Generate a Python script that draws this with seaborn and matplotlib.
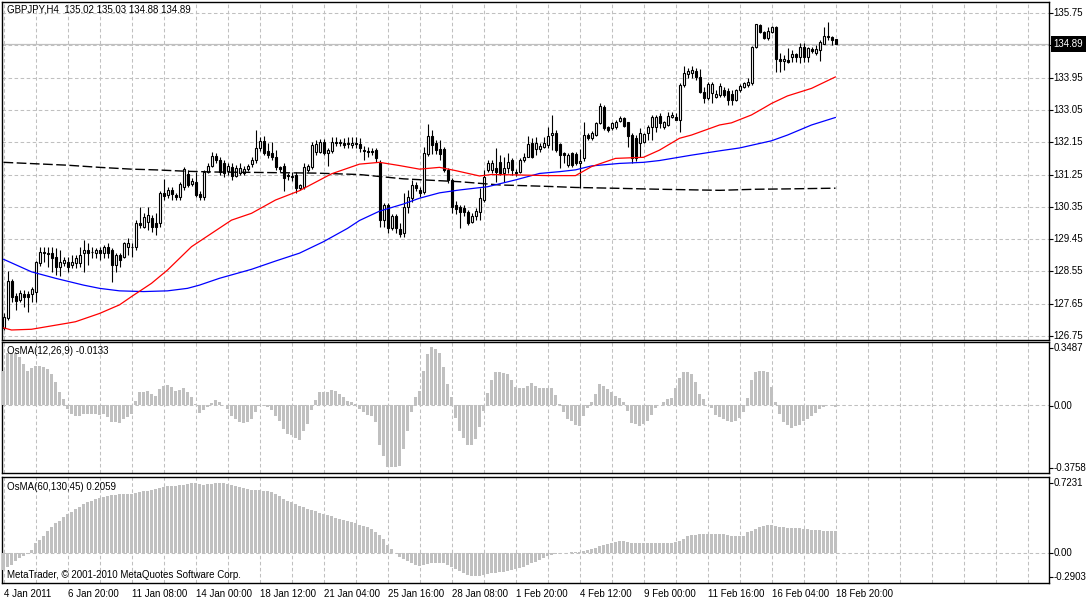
import numpy as np
import matplotlib
matplotlib.use("Agg")
import matplotlib.pyplot as plt
from matplotlib import transforms
import seaborn as sns

# ---------------- data ----------------
symbol_title = "GBPJPY,H4  135.02 135.03 134.88 134.89"

opens = [126.97, 127.25, 128.29, 127.88, 127.76, 127.92, 127.92, 127.92, 127.99, 128.78,
         129.10, 129.07, 129.06, 128.96, 128.68, 128.78, 128.82, 128.73, 128.78, 128.78,
         129.06, 129.15, 129.10, 129.06, 129.15, 129.06, 129.24, 129.15, 128.73, 129.01,
         128.96, 129.24, 129.24, 129.24, 129.89, 129.80, 129.94, 130.03, 129.91, 129.89,
         130.74, 130.68, 130.82, 130.68, 130.62, 130.90, 131.26, 130.99, 131.05, 130.71,
         130.62, 131.33, 131.50, 131.78, 131.66, 131.56, 131.36, 131.47, 131.21, 131.30,
         131.30, 131.40, 131.55, 131.66, 131.98, 132.18, 131.91, 131.86, 131.73, 131.47,
         131.50, 131.24, 131.17, 131.24, 130.87, 130.90, 131.38, 131.47, 131.89, 131.89,
         132.15, 131.84, 131.91, 132.16, 132.16, 132.12, 132.12, 132.07, 132.12, 132.09,
         131.93, 131.91, 131.91, 131.93, 131.57, 129.98, 130.40, 129.75, 130.10, 129.73,
         129.61, 130.35, 130.59, 130.96, 130.82, 130.77, 131.82, 132.32, 132.14, 131.95,
         131.95, 131.38, 131.10, 130.40, 130.35, 130.33, 130.20, 129.94, 130.10, 130.21,
         130.54, 131.38, 131.38, 131.44, 131.61, 131.29, 131.42, 131.66, 131.33, 131.33,
         131.66, 131.75, 132.14, 131.95, 131.95, 132.03, 132.07, 132.35, 132.42, 132.10,
         131.84, 131.52, 131.84, 131.82, 131.58, 131.70, 132.35, 132.26, 132.35, 132.68,
         133.14, 132.58, 132.54, 132.57, 132.75, 132.82, 132.70, 132.35, 132.26, 132.12,
         132.17, 132.40, 132.58, 132.58, 132.88, 132.57, 132.63, 132.86, 132.86, 132.77,
         133.74, 134.05, 134.07, 134.13, 133.98, 133.56, 133.37, 133.51, 133.42, 133.47,
         133.61, 133.59, 133.49, 133.33, 133.61, 133.68, 133.74, 133.79, 134.81, 135.42,
         135.21, 135.04, 135.23, 135.37, 134.46, 134.42, 134.44, 134.52, 134.61, 134.53,
         134.81, 134.53, 134.74, 134.63, 134.72, 134.90, 135.11, 135.07, 135.02]

highs = [127.40, 128.56, 128.35, 127.95, 128.03, 128.03, 128.00, 128.13, 128.85, 129.24,
         129.24, 129.24, 129.24, 129.20, 129.15, 128.95, 128.96, 129.01, 129.01, 129.24,
         129.43, 129.34, 129.24, 129.20, 129.24, 129.29, 129.34, 129.20, 129.06, 129.06,
         129.38, 129.47, 129.34, 129.98, 130.35, 130.17, 130.35, 130.12, 130.17, 130.79,
         131.13, 130.90, 130.91, 130.74, 131.04, 131.47, 131.38, 131.15, 131.33, 130.80,
         131.38, 131.57, 131.87, 131.84, 131.75, 131.66, 131.57, 131.56, 131.52, 131.57,
         131.50, 131.55, 131.75, 132.49, 132.30, 132.33, 132.13, 132.16, 131.93, 131.50,
         131.57, 131.30, 131.32, 131.32, 131.00, 131.57, 131.55, 132.16, 132.21, 132.24,
         132.24, 132.00, 132.30, 132.30, 132.24, 132.27, 132.30, 132.30, 132.30, 132.27,
         132.05, 132.02, 132.00, 132.00, 131.66, 130.46, 130.45, 130.15, 130.15, 129.89,
         130.73, 130.82, 131.10, 131.04, 130.90, 132.03, 132.66, 132.49, 132.21, 132.21,
         132.03, 131.43, 131.15, 130.50, 130.40, 130.40, 130.26, 130.17, 130.31, 130.87,
         131.38, 131.66, 131.65, 131.98, 131.79, 131.75, 131.84, 131.70, 131.40, 131.70,
         131.84, 132.32, 132.26, 132.30, 132.12, 132.30, 132.58, 132.91, 132.49, 132.12,
         131.89, 131.84, 131.89, 131.89, 131.95, 132.72, 132.40, 132.45, 132.72, 133.23,
         133.19, 132.60, 132.72, 132.77, 132.88, 132.86, 132.72, 132.40, 132.35, 132.54,
         132.42, 132.63, 132.91, 132.91, 132.96, 132.75, 133.00, 133.00, 132.96, 133.79,
         134.26, 134.23, 134.26, 134.23, 134.18, 133.70, 133.84, 133.84, 133.61, 133.79,
         133.70, 133.65, 133.61, 133.62, 133.77, 133.84, 133.93, 134.84, 135.45, 135.44,
         135.25, 135.37, 135.39, 135.39, 134.63, 134.58, 134.77, 134.72, 134.63, 134.92,
         134.92, 134.81, 134.81, 134.86, 135.00, 135.37, 135.51, 135.11, 135.03]

lows = [126.92, 127.20, 127.71, 127.48, 127.70, 127.57, 127.43, 127.71, 127.71, 128.70,
        128.82, 128.68, 128.54, 128.45, 128.41, 128.70, 128.54, 128.64, 128.64, 128.68,
        128.54, 128.73, 128.92, 128.92, 128.87, 128.92, 128.92, 128.27, 128.54, 128.68,
        128.92, 129.01, 128.96, 129.15, 129.75, 129.75, 129.71, 129.66, 129.57, 129.80,
        130.54, 130.60, 130.54, 130.54, 130.54, 130.82, 130.91, 130.93, 130.63, 130.54,
        130.54, 131.30, 131.45, 131.57, 131.24, 131.19, 131.24, 131.10, 131.18, 131.25,
        131.24, 131.35, 131.46, 131.57, 131.90, 131.79, 131.71, 131.66, 131.38, 131.32,
        130.79, 131.10, 131.07, 130.74, 130.82, 130.85, 131.33, 131.40, 131.79, 131.85,
        131.79, 131.50, 131.85, 132.05, 132.05, 132.00, 132.00, 132.00, 132.00, 131.88,
        131.66, 131.74, 131.79, 131.60, 129.79, 129.80, 129.62, 129.70, 129.61, 129.50,
        129.50, 130.17, 130.49, 130.80, 130.62, 130.70, 131.78, 131.82, 131.82, 131.66,
        131.33, 131.02, 130.18, 130.15, 129.77, 130.10, 129.84, 129.90, 129.98, 129.97,
        130.49, 131.33, 131.30, 131.05, 131.24, 131.05, 131.29, 131.24, 131.20, 131.29,
        131.60, 131.74, 131.70, 131.79, 131.89, 131.98, 131.98, 131.93, 131.89, 131.42,
        131.56, 131.47, 131.47, 131.52, 130.87, 131.62, 132.21, 132.21, 132.31, 132.65,
        132.49, 132.44, 132.50, 132.53, 132.72, 132.57, 132.03, 131.56, 131.62, 131.75,
        132.12, 132.21, 132.21, 132.44, 132.54, 132.52, 132.60, 132.82, 132.77, 132.44,
        133.70, 133.93, 133.93, 133.88, 133.53, 133.23, 133.33, 133.23, 133.37, 133.42,
        133.42, 133.19, 133.19, 133.30, 133.56, 133.65, 133.70, 133.74, 134.77, 135.18,
        135.02, 135.00, 135.18, 134.12, 134.12, 134.16, 134.35, 134.39, 134.39, 134.35,
        134.39, 134.39, 134.63, 134.58, 134.42, 134.88, 135.00, 134.86, 134.88]

closes = [127.29, 128.29, 127.85, 127.74, 127.95, 127.85, 127.84, 128.06, 128.82, 129.10,
          129.06, 129.04, 128.92, 128.68, 128.82, 128.87, 128.68, 128.82, 128.92, 129.01,
          129.15, 129.06, 129.08, 129.15, 129.06, 129.24, 129.06, 128.73, 129.01, 128.87,
          129.34, 129.34, 129.22, 129.89, 129.85, 130.08, 130.12, 129.80, 129.80, 130.74,
          130.65, 130.82, 130.70, 130.62, 130.99, 131.40, 130.96, 131.07, 130.68, 130.62,
          131.33, 131.50, 131.78, 131.66, 131.33, 131.30, 131.50, 131.21, 131.42, 131.42,
          131.40, 131.50, 131.66, 131.98, 132.18, 131.86, 131.79, 131.73, 131.47, 131.40,
          131.15, 131.21, 131.22, 130.87, 130.96, 131.47, 131.50, 132.07, 132.10, 132.15,
          131.84, 131.93, 132.16, 132.12, 132.12, 132.07, 132.10, 132.14, 132.11, 131.98,
          131.91, 131.89, 131.88, 131.70, 129.98, 130.40, 129.75, 130.10, 129.75, 129.59,
          130.35, 130.63, 130.96, 130.87, 130.73, 131.85, 132.32, 132.07, 131.93, 131.82,
          131.38, 131.10, 130.35, 130.30, 130.21, 130.20, 129.89, 130.10, 130.24, 130.59,
          131.19, 131.57, 131.58, 131.33, 131.29, 131.42, 131.61, 131.38, 131.29, 131.66,
          131.75, 132.10, 131.75, 132.14, 132.05, 132.14, 132.32, 132.42, 131.93, 131.79,
          131.79, 131.79, 131.52, 131.56, 131.62, 132.35, 132.26, 132.40, 132.68, 133.16,
          132.54, 132.49, 132.68, 132.72, 132.82, 132.60, 132.31, 131.70, 131.70, 132.40,
          132.38, 132.58, 132.86, 132.86, 132.68, 132.70, 132.88, 132.91, 132.77, 133.74,
          134.07, 134.13, 134.16, 133.98, 133.56, 133.37, 133.77, 133.77, 133.49, 133.72,
          133.47, 133.33, 133.33, 133.61, 133.72, 133.79, 133.84, 134.81, 135.43, 135.21,
          135.04, 135.25, 135.37, 134.46, 134.42, 134.46, 134.39, 134.61, 134.52, 134.81,
          134.53, 134.78, 134.70, 134.74, 134.95, 135.11, 135.07, 135.00, 134.89]

# moving averages (bar index, price)
ma_red_bar = [0, 2, 7, 16, 18, 24, 29, 32, 37, 41, 47, 52, 57, 62, 68, 74, 82, 89, 94, 99,
              104, 109, 113, 119, 122, 128, 136, 143, 147, 153, 160, 164, 169, 172, 179, 182,
              187, 190, 192, 196, 202, 208]
ma_red = [126.98, 126.92, 126.94, 127.11, 127.15, 127.38, 127.62, 127.85, 128.22, 128.59,
          129.24, 129.61, 129.98, 130.17, 130.54, 130.80, 131.27, 131.54, 131.59, 131.50,
          131.40, 131.45, 131.36, 131.21, 131.25, 131.24, 131.22, 131.22, 131.47, 131.70,
          131.73, 131.93, 132.26, 132.35, 132.63, 132.69, 132.91, 133.10, 133.23, 133.44,
          133.65, 133.97]

ma_blue_bar = [0, 7, 13, 20, 24, 29, 35, 41, 46, 49, 54, 62, 68, 74, 80, 86, 89, 94, 100, 104,
               109, 114, 121, 128, 134, 139, 143, 147, 154, 160, 164, 172, 179, 184, 192, 196,
               202, 208]
ma_blue = [128.89, 128.54, 128.36, 128.17, 128.08, 128.01, 127.99, 128.01, 128.08, 128.17,
           128.36, 128.61, 128.84, 129.06, 129.38, 129.75, 129.97, 130.23, 130.43, 130.59,
           130.74, 130.82, 130.91, 131.10, 131.28, 131.33, 131.38, 131.49, 131.56, 131.59,
           131.64, 131.79, 131.91, 131.99, 132.19, 132.35, 132.63, 132.84]

ma_black_bar = [0, 8, 16, 24, 32, 38, 46, 53, 62, 70, 78, 89, 100, 114, 124, 136, 143, 152,
                164, 179, 188, 196, 208]
ma_black = [131.59, 131.55, 131.51, 131.45, 131.40, 131.38, 131.34, 131.32, 131.31, 131.30,
            131.29, 131.25, 131.13, 131.05, 130.96, 130.92, 130.89, 130.87, 130.84, 130.81,
            130.84, 130.85, 130.87]

osma_fast = [0.190, 0.287, 0.287, 0.287, 0.264, 0.227, 0.190, 0.203, 0.214, 0.217,
             0.208, 0.199, 0.171, 0.125, 0.070, 0.033, -0.022, -0.050, -0.063, -0.059,
             -0.050, -0.050, -0.050, -0.050, -0.055, -0.050, -0.068, -0.092, -0.096, -0.100,
             -0.077, -0.068, -0.050, 0.024, 0.070, 0.070, 0.079, 0.061, 0.052, 0.088,
             0.107, 0.111, 0.098, 0.079, 0.085, 0.092, 0.070, 0.042, 0.006, -0.044,
             -0.026, -0.013, 0.011, 0.028, 0.015, 0.002, -0.022, -0.059, -0.077, -0.096,
             -0.100, -0.096, -0.077, -0.041, -0.004, 0.001, -0.009, -0.026, -0.059, -0.087,
             -0.133, -0.160, -0.166, -0.184, -0.192, -0.142, -0.105, -0.026, 0.028, 0.070,
             0.074, 0.074, 0.083, 0.076, 0.061, 0.042, 0.024, 0.015, 0.006, -0.022,
             -0.037, -0.055, -0.059, -0.096, -0.221, -0.280, -0.341, -0.345, -0.345, -0.335,
             -0.243, -0.142, -0.037, 0.042, 0.079, 0.186, 0.282, 0.319, 0.310, 0.287,
             0.208, 0.116, 0.042, -0.072, -0.142, -0.182, -0.219, -0.219, -0.188, -0.123,
             -0.031, 0.066, 0.138, 0.184, 0.184, 0.175, 0.171, 0.140, 0.098, 0.092,
             0.092, 0.107, 0.120, 0.107, 0.094, 0.092, 0.092, 0.092, 0.057, 0.006,
             -0.037, -0.077, -0.087, -0.111, -0.114, -0.063, -0.018, 0.015, 0.061, 0.116,
             0.103, 0.088, 0.070, 0.052, 0.037, 0.015, -0.031, -0.101, -0.105, -0.114,
             -0.105, -0.087, -0.055, -0.018, 0.002, 0.018, 0.033, 0.037, 0.094, 0.147,
             0.181, 0.181, 0.171, 0.125, 0.061, 0.033, 0.002, -0.018, -0.055, -0.068,
             -0.077, -0.087, -0.096, -0.087, -0.074, -0.041, 0.037, 0.138, 0.184, 0.186,
             0.186, 0.181, 0.098, 0.015, -0.050, -0.096, -0.111, -0.129, -0.118, -0.111,
             -0.087, -0.077, -0.063, -0.044, -0.022, -0.009, -0.002, 0.001, -0.013]

osma_slow = [-0.166, -0.140, -0.115, -0.083, -0.051, -0.029, -0.013, 0.025, 0.089, 0.124,
             0.163, 0.210, 0.249, 0.280, 0.306, 0.338, 0.370, 0.386, 0.417, 0.440,
             0.465, 0.481, 0.497, 0.513, 0.523, 0.529, 0.545, 0.551, 0.555, 0.561,
             0.561, 0.561, 0.564, 0.567, 0.577, 0.586, 0.593, 0.602, 0.609, 0.618,
             0.625, 0.634, 0.637, 0.641, 0.647, 0.650, 0.656, 0.663, 0.663, 0.656,
             0.650, 0.656, 0.656, 0.663, 0.666, 0.663, 0.656, 0.647, 0.634, 0.625,
             0.615, 0.606, 0.602, 0.602, 0.602, 0.593, 0.586, 0.577, 0.561, 0.545,
             0.513, 0.497, 0.481, 0.465, 0.449, 0.433, 0.421, 0.408, 0.395, 0.382,
             0.373, 0.360, 0.347, 0.335, 0.322, 0.312, 0.300, 0.290, 0.280, 0.268,
             0.255, 0.242, 0.223, 0.201, 0.172, 0.131, 0.076, 0.035, -0.006, -0.038,
             -0.061, -0.083, -0.102, -0.115, -0.127, -0.118, -0.108, -0.102, -0.096, -0.096,
             -0.102, -0.115, -0.134, -0.156, -0.178, -0.198, -0.214, -0.223, -0.226, -0.223,
             -0.214, -0.204, -0.198, -0.194, -0.188, -0.182, -0.175, -0.169, -0.159, -0.147,
             -0.134, -0.118, -0.102, -0.086, -0.070, -0.054, -0.035, -0.019, -0.010, -0.006,
             -0.003, 0.000, 0.003, 0.006, 0.010, 0.013, 0.025, 0.032, 0.045, 0.067,
             0.073, 0.083, 0.092, 0.099, 0.108, 0.115, 0.099, 0.096, 0.096, 0.096,
             0.096, 0.096, 0.096, 0.096, 0.096, 0.096, 0.096, 0.096, 0.099, 0.108,
             0.131, 0.156, 0.169, 0.172, 0.178, 0.178, 0.182, 0.182, 0.178, 0.178,
             0.175, 0.172, 0.163, 0.163, 0.163, 0.163, 0.194, 0.210, 0.226, 0.242,
             0.258, 0.265, 0.265, 0.258, 0.249, 0.242, 0.239, 0.236, 0.233, 0.233,
             0.226, 0.223, 0.220, 0.217, 0.214, 0.210, 0.210, 0.210, 0.206]

time_labels = ["4 Jan 2011", "6 Jan 20:00", "11 Jan 08:00", "14 Jan 00:00", "18 Jan 12:00",
               "21 Jan 04:00", "25 Jan 16:00", "28 Jan 08:00", "1 Feb 20:00", "4 Feb 12:00",
               "9 Feb 00:00", "11 Feb 16:00", "16 Feb 04:00", "18 Feb 20:00"]
price_ticks = [126.75, 127.65, 128.55, 129.45, 130.35, 131.25, 132.15, 133.05, 133.95, 134.85, 135.75]
last_price = 134.89
osma_fast_range = (-0.3758, 0.3487)
osma_slow_range = (-0.2903, 0.7231)
osma_fast_title = "OsMA(12,26,9) -0.0133"
osma_slow_title = "OsMA(60,130,45) 0.2059"
copyright_text = "MetaTrader, \u00a9 2001-2010 MetaQuotes Software Corp."

# ---------------- styling ----------------
sns.set_theme(style="white")
plt.rcParams['font.family'] = ['Liberation Sans', 'DejaVu Sans']
FS = 7
GRID = '#c0c0c0'
GRID_LS = (0, (3.4, 2.4))

W, H = 1087, 600
fig = plt.figure(figsize=(W / 100, H / 100), dpi=100)
fig.patch.set_facecolor('white')


def box(l, t, r, b):
    return [l / W, 1 - b / H, (r - l) / W, (b - t) / H]


P1 = (2, 2, 1049, 340)
P2 = (2, 342, 1049, 473)
P3 = (2, 477, 1049, 583)
ax1 = fig.add_axes(box(*P1))
ax2 = fig.add_axes(box(*P2))
ax3 = fig.add_axes(box(*P3))

bars = np.arange(len(closes))
o = np.array(opens); c = np.array(closes)
hi = np.maximum(np.array(highs), np.maximum(o, c))
lo = np.minimum(np.array(lows), np.minimum(o, c))
XLIM = (-0.375, 261.375)

# ---------------- main price panel ----------------
ax1.axhline(last_price, color='#c0c0c0', lw=0.9, zorder=1)
ax1.vlines(bars, lo, hi, color='black', lw=0.8, zorder=3)
up = c >= o
body_b = np.minimum(o, c)
body_h = np.abs(c - o)
ax1.bar(bars[up], body_h[up], bottom=body_b[up], width=0.5, color='white',
        edgecolor='black', linewidth=0.8, zorder=4)
ax1.bar(bars[~up], body_h[~up], bottom=body_b[~up], width=0.5, color='black',
        edgecolor='black', linewidth=0.8, zorder=4)

sns.lineplot(x=ma_black_bar, y=ma_black, ax=ax1, color='black', linewidth=1.0, zorder=5)
ax1.lines[-1].set_dashes([7, 2.5])
sns.lineplot(x=ma_blue_bar, y=ma_blue, ax=ax1, color='#0000ff', linewidth=0.9, zorder=6)
sns.lineplot(x=ma_red_bar, y=ma_red, ax=ax1, color='#ff0000', linewidth=0.9, zorder=6)

ax1.set_ylim(126.641, 136.056)
ax1.set_yticks(price_ticks)
ax1.grid(True, axis='y', color=GRID, lw=0.75, linestyle=GRID_LS)

# ---------------- OsMA panels ----------------
sns.barplot(x=bars, y=osma_fast, ax=ax2, native_scale=True, orient='x', color='#c0c0c0',
            saturation=1, width=0.75, errorbar=None, linewidth=0, zorder=3)
ax2.set_ylim(*osma_fast_range)
sns.barplot(x=bars, y=osma_slow, ax=ax3, native_scale=True, orient='x', color='#c0c0c0',
            saturation=1, width=0.75, errorbar=None, linewidth=0, zorder=3)
ax3.set_ylim(*osma_slow_range)
for ax in (ax2, ax3):
    ax.axhline(0, color=GRID, lw=0.75, linestyle=GRID_LS, zorder=1)

# ---------------- common axes cosmetics ----------------
major = list(range(0, 209, 16))
minor = [k for k in range(0, 262, 8) if k not in major]
for ax in (ax1, ax2, ax3):
    ax.set_facecolor('white')
    ax.set_xlim(*XLIM)
    ax.set_xlabel('')
    ax.set_ylabel('')
    ax.set_xticks(major)
    ax.set_xticks(minor, minor=True)
    ax.grid(True, which='both', axis='x', color=GRID, lw=0.75, linestyle=GRID_LS)
    ax.set_axisbelow(True)
    for s in ax.spines.values():
        s.set_visible(True)
        s.set_color('black')
        s.set_linewidth(1.0)
    ax.tick_params(axis='y', which='both', left=False, right=True, labelleft=False,
                   labelright=False, length=3, width=0.8, direction='out', color='black')

for ax in (ax1, ax2):
    ax.tick_params(axis='x', which='both', length=0, labelbottom=False)

ax3.tick_params(axis='x', which='major', length=3, width=0.8, direction='out', color='black',
                pad=1.5, labelsize=FS, labelcolor='black')
ax3.tick_params(axis='x', which='minor', length=0)
ax3.set_xticklabels(time_labels, ha='left')

# right-side labels
XR = 1.0045
tr1 = transforms.blended_transform_factory(ax1.transAxes, ax1.transData)
for p in price_ticks:
    if abs(p - 134.85) < 1e-6:
        continue
    ax1.text(XR, p, f"{p:.2f}", transform=tr1, ha='left', va='center', fontsize=FS,
             color='black', clip_on=False)
ax1.text(XR, last_price, f"{last_price:.2f}", transform=tr1, ha='left', va='center',
         fontsize=FS, color='white', clip_on=False, zorder=10,
         bbox=dict(boxstyle='square,pad=0.3', fc='black', ec='none'))


def label_panel(ax, panel, rng, entries):
    top, bot = panel[1], panel[3]
    ticks = []
    for text, ypx in entries:
        frac = (bot - ypx) / (bot - top)
        ax.text(XR, frac, text, transform=ax.transAxes, ha='left', va='center',
                fontsize=FS, color='black', clip_on=False)
        ticks.append(rng[0] + frac * (rng[1] - rng[0]))
    ax.set_yticks(ticks)


label_panel(ax2, P2, osma_fast_range,
            [(f"{osma_fast_range[1]:.4f}", 348), ("0.00", 406), (f"{osma_fast_range[0]:.4f}", 468)])
label_panel(ax3, P3, osma_slow_range,
            [(f"{osma_slow_range[1]:.4f}", 483), ("0.00", 552.5), (f"{osma_slow_range[0]:.4f}", 577)])

# in-panel texts
ax1.text(5 / 1047, (340 - 10) / 338, symbol_title, transform=ax1.transAxes, ha='left',
         va='center', fontsize=FS, color='black')
ax2.text(5 / 1047, (473 - 351.5) / 131, osma_fast_title, transform=ax2.transAxes, ha='left',
         va='center', fontsize=FS, color='black')
ax3.text(5 / 1047, (583 - 486.5) / 106, osma_slow_title, transform=ax3.transAxes, ha='left',
         va='center', fontsize=FS, color='black')
ax3.text(5 / 1047, (583 - 575) / 106, copyright_text, transform=ax3.transAxes, ha='left',
         va='center', fontsize=FS, color='black', zorder=10)

fig.savefig("out.png", dpi=100, facecolor='white')
